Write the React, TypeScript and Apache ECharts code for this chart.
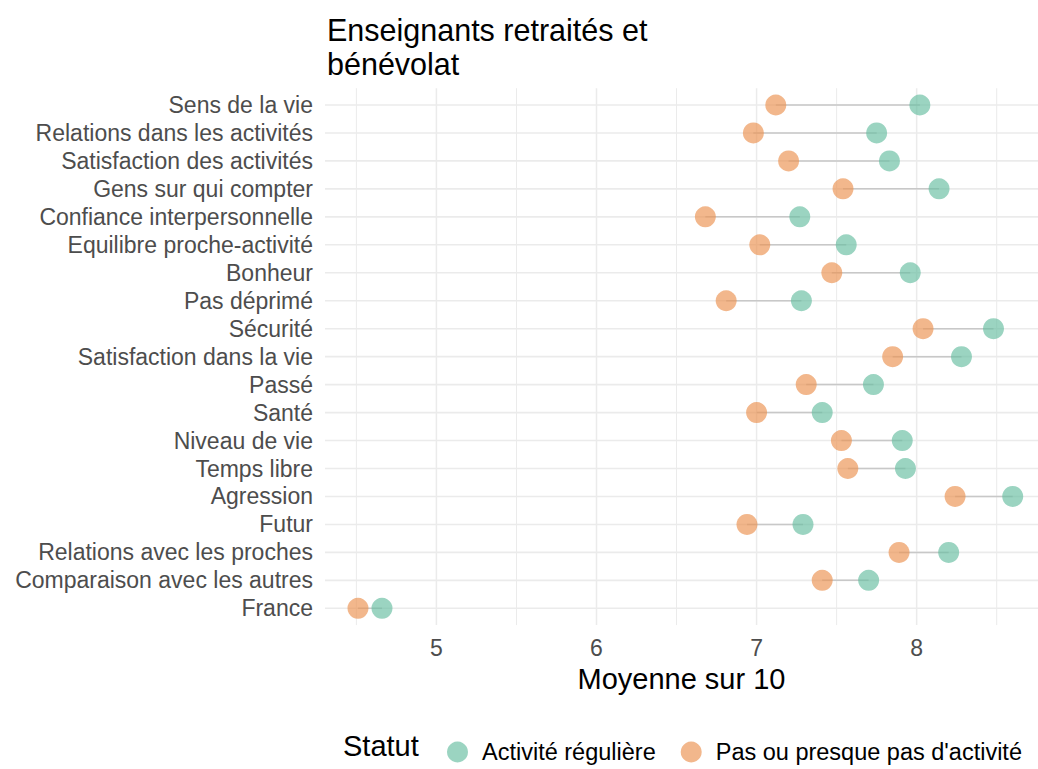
import React, { useEffect, useRef } from "react";
import * as echarts from "echarts";

const categories = [
  "Sens de la vie",
  "Relations dans les activités",
  "Satisfaction des activités",
  "Gens sur qui compter",
  "Confiance interpersonnelle",
  "Equilibre proche-activité",
  "Bonheur",
  "Pas déprimé",
  "Sécurité",
  "Satisfaction dans la vie",
  "Passé",
  "Santé",
  "Niveau de vie",
  "Temps libre",
  "Agression",
  "Futur",
  "Relations avec les proches",
  "Comparaison avec les autres",
  "France",
];
const activiteReguliere = [8.02, 7.75, 7.83, 8.14, 7.27, 7.56, 7.96, 7.28, 8.48, 8.28, 7.73, 7.41, 7.91, 7.93, 8.6, 7.29, 8.2, 7.7, 4.66];
const pasActivite = [7.12, 6.98, 7.2, 7.54, 6.68, 7.02, 7.47, 6.81, 8.04, 7.85, 7.31, 7.0, 7.53, 7.57, 8.24, 6.94, 7.89, 7.41, 4.51];
const xTickLabels = [5, 6, 7, 8];
const xMinorGrid = [4.5, 5.5, 6.5, 7.5, 8.5];

const NAME_A = "Activité régulière";
const NAME_B = "Pas ou presque pas d'activité";
const FONT = "'Liberation Sans', Arial, sans-serif";
const X_MIN = 4.304;
const X_MAX = 8.758;
const Y_MIN = -0.6;
const Y_MAX = 18.6;

export default function App() {
  const ref = useRef<HTMLDivElement>(null);
  useEffect(() => {
    if (!ref.current) return;
    const chart = echarts.init(ref.current, undefined, { renderer: "svg" });
    const n = categories.length;
    const yPos = (i: number) => n - 1 - i;

    const gridV = [
      ...xTickLabels.map((v) => [v, 1.5]),
      ...xMinorGrid.map((v) => [v, 1.0]),
    ];
    const gridH = categories.map((_, i) => [yPos(i)]);

    const option: any = {
      animation: false,
      backgroundColor: "#ffffff",
      textStyle: { fontFamily: FONT },
      title: {
        text: "Enseignants retraités et\nbénévolat",
        left: 322,
        top: 8,
        textStyle: { fontSize: 30.5, lineHeight: 34, color: "#000", fontWeight: "normal", fontFamily: FONT },
      },
      grid: { left: 325, right: 0, top: 88.2, bottom: 143.9 },
      xAxis: {
        type: "value",
        min: X_MIN,
        max: X_MAX,
        axisLine: { show: false },
        axisTick: { show: false },
        splitLine: { show: false },
        axisLabel: {
          customValues: xTickLabels,
          color: "#4D4D4D",
          fontSize: 23,
          margin: 11,
          fontFamily: FONT,
        },
        name: "Moyenne sur 10",
        nameLocation: "middle",
        nameGap: 39,
        nameTextStyle: { fontSize: 29, color: "#000", fontFamily: FONT },
      },
      yAxis: {
        type: "value",
        min: Y_MIN,
        max: Y_MAX,
        axisLine: { show: false },
        axisTick: { show: false },
        splitLine: { show: false },
        axisLabel: {
          customValues: categories.map((_, i) => yPos(i)),
          formatter: (v: number) => categories[n - 1 - Math.round(v)] ?? "",
          color: "#4D4D4D",
          fontSize: 23,
          margin: 12,
          fontFamily: FONT,
        },
      },
      legend: {
        data: [NAME_A, NAME_B],
        left: 442,
        top: 735,
        icon: "circle",
        itemWidth: 21,
        itemHeight: 21,
        itemGap: 25,
        textStyle: { fontSize: 23.5, color: "#000", fontFamily: FONT, padding: [0, 0, 0, 9] },
      },
      graphic: [
        {
          type: "text",
          left: 343,
          top: 731,
          style: { text: "Statut", fontSize: 29, fill: "#000", fontFamily: FONT },
        },
      ],
      series: [
        {
          type: "custom",
          name: "gridV",
          silent: true,
          z: 0,
          data: gridV,
          encode: { x: 0 },
          renderItem: (_p: any, api: any) => {
            const x = api.value(0);
            const w = api.value(1);
            const a = api.coord([x, Y_MIN]);
            const b = api.coord([x, Y_MAX]);
            return {
              type: "line",
              shape: { x1: a[0], y1: a[1], x2: b[0], y2: b[1] },
              style: { stroke: "#EBEBEB", lineWidth: w },
            };
          },
        },
        {
          type: "custom",
          name: "gridH",
          silent: true,
          z: 0,
          data: gridH,
          encode: { y: 0 },
          renderItem: (_p: any, api: any) => {
            const y = api.value(0);
            const a = api.coord([X_MIN, y]);
            const b = api.coord([X_MAX, y]);
            return {
              type: "line",
              shape: { x1: a[0], y1: a[1], x2: b[0], y2: b[1] },
              style: { stroke: "#EBEBEB", lineWidth: 1.6 },
            };
          },
        },
        {
          type: "custom",
          name: "segments",
          silent: true,
          z: 1,
          data: categories.map((_, i) => [pasActivite[i], activiteReguliere[i], yPos(i)]),
          encode: { x: [0, 1], y: 2 },
          renderItem: (_p: any, api: any) => {
            const a = api.coord([api.value(0), api.value(2)]);
            const b = api.coord([api.value(1), api.value(2)]);
            return {
              type: "line",
              shape: { x1: a[0], y1: a[1], x2: b[0], y2: b[1] },
              style: { stroke: "#C8C8C8", lineWidth: 1.5 },
            };
          },
        },
        {
          type: "scatter",
          name: NAME_B,
          z: 2,
          symbol: "circle",
          symbolSize: 21,
          itemStyle: { color: "rgba(235,145,80,0.82)" },
          data: categories.map((_, i) => [pasActivite[i], yPos(i)]),
        },
        {
          type: "scatter",
          name: NAME_A,
          z: 3,
          symbol: "circle",
          symbolSize: 21,
          itemStyle: { color: "rgba(102,190,160,0.82)" },
          data: categories.map((_, i) => [activiteReguliere[i], yPos(i)]),
        },
      ],
    };
    chart.setOption(option);
    return () => chart.dispose();
  }, []);
  return (
    <div
      ref={ref}
      style={{ position: "fixed", left: 0, top: 0, width: 1038, height: 769, background: "#fff" }}
    />
  );
}
